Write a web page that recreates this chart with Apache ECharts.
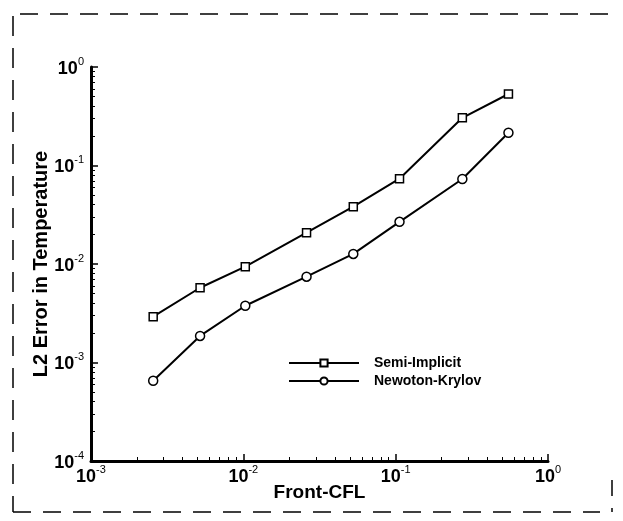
<!DOCTYPE html>
<html>
<head>
<meta charset="utf-8">
<script src="https://cdn.jsdelivr.net/npm/echarts@6/dist/echarts.min.js"></script>
<style>
  html, body { margin: 0; padding: 0; background: #fff; }
  #chart { width: 623px; height: 521px; }
</style>
</head>
<body>
<div id="chart"></div>
<script>
// Front-CFL values (x)
var cfl = [0.00256, 0.0052, 0.0103, 0.026, 0.0527, 0.106, 0.274, 0.55];
// L2 error in temperature
var semiImplicit = [0.00292, 0.00574, 0.0094, 0.0208, 0.0382, 0.0734, 0.305, 0.532];
var newtonKrylov = [0.000653, 0.00186, 0.00377, 0.00743, 0.01265, 0.0268, 0.0729, 0.215];
var seriesNames = ['Semi-Implicit', 'Newoton-Krylov'];

function pairs(xs, ys) {
  return xs.map(function (x, i) { return [x, ys[i]]; });
}

function powLabel(v) {
  var e = Math.round(Math.log10(v));
  return '{b|10}{s|' + e + '}';
}

var labelRich = {
  b: { fontSize: 18, fontWeight: 'bold', color: '#000', fontFamily: 'Liberation Sans', verticalAlign: 'bottom', lineHeight: 22 },
  s: { fontSize: 11, color: '#000', fontFamily: 'Liberation Sans', verticalAlign: 'top', lineHeight: 22 }
};

var chart = echarts.init(document.getElementById('chart'), null, { renderer: 'canvas' });

var option = {
  backgroundColor: '#fff',
  animation: false,
  grid: { left: 91, right: 75, top: 67, bottom: 60 },
  legend: {
    orient: 'vertical',
    left: 288,
    top: 356,
    padding: 0,
    itemWidth: 70,
    itemHeight: 9,
    itemGap: 4,
    textStyle: { fontSize: 14, fontWeight: 'bold', color: '#000', fontFamily: 'Liberation Sans', padding: [0, 0, 0, 10] },
    data: seriesNames
  },
  xAxis: {
    type: 'log',
    logBase: 10,
    min: 0.001,
    max: 1,
    name: 'Front-CFL',
    nameLocation: 'middle',
    nameGap: 22,
    nameMoveOverlap: false,
    nameTextStyle: { fontSize: 19, fontWeight: 'bold', color: '#000', fontFamily: 'Liberation Sans' },
    axisLine: { lineStyle: { color: '#000', width: 3 } },
    axisTick: { inside: true, length: 7, lineStyle: { color: '#000', width: 1.5 } },
    minorTick: { show: true, splitNumber: 9, length: 4, lineStyle: { color: '#000', width: 1 } },
    splitLine: { show: false },
    axisLabel: { margin: 3, formatter: powLabel, rich: labelRich }
  },
  yAxis: {
    type: 'log',
    logBase: 10,
    min: 0.0001,
    max: 1,
    name: 'L2 Error in Temperature',
    nameLocation: 'middle',
    nameGap: 40,
    nameMoveOverlap: false,
    nameTextStyle: { fontSize: 20, fontWeight: 'bold', color: '#000', fontFamily: 'Liberation Sans' },
    axisLine: { lineStyle: { color: '#000', width: 3 } },
    axisTick: { inside: true, length: 7, lineStyle: { color: '#000', width: 1.5 } },
    minorTick: { show: true, splitNumber: 9, length: 4, lineStyle: { color: '#000', width: 1 } },
    splitLine: { show: false },
    axisLabel: { margin: 7, formatter: powLabel, rich: labelRich }
  },
  series: [
    {
      name: seriesNames[0],
      type: 'line',
      data: pairs(cfl, semiImplicit),
      symbol: 'rect',
      symbolSize: 8,
      lineStyle: { color: '#000', width: 2 },
      itemStyle: { color: '#fff', borderColor: '#000', borderWidth: 1.5 }
    },
    {
      name: seriesNames[1],
      type: 'line',
      data: pairs(cfl, newtonKrylov),
      symbol: 'circle',
      symbolSize: 9,
      lineStyle: { color: '#000', width: 2 },
      itemStyle: { color: '#fff', borderColor: '#000', borderWidth: 1.5 }
    }
  ],
  graphic: [
    {
      type: 'polyline',
      silent: true,
      shape: { points: [[20, 14], [620, 14]] },
      style: { stroke: '#000', lineWidth: 1.5, lineDash: [18, 12], fill: null }
    },
    {
      type: 'polyline',
      silent: true,
      shape: { points: [[13, 16], [13, 512]] },
      style: { stroke: '#000', lineWidth: 1.5, lineDash: [20, 12], fill: null }
    },
    {
      type: 'polyline',
      silent: true,
      shape: { points: [[13, 512], [600, 512]] },
      style: { stroke: '#000', lineWidth: 1.5, lineDash: [18, 12], fill: null }
    },
    {
      type: 'polyline',
      silent: true,
      shape: { points: [[612, 480], [612, 512]] },
      style: { stroke: '#000', lineWidth: 1.5, lineDash: [16, 12], fill: null }
    }
  ]
};

chart.setOption(option);
</script>
</body>
</html>
